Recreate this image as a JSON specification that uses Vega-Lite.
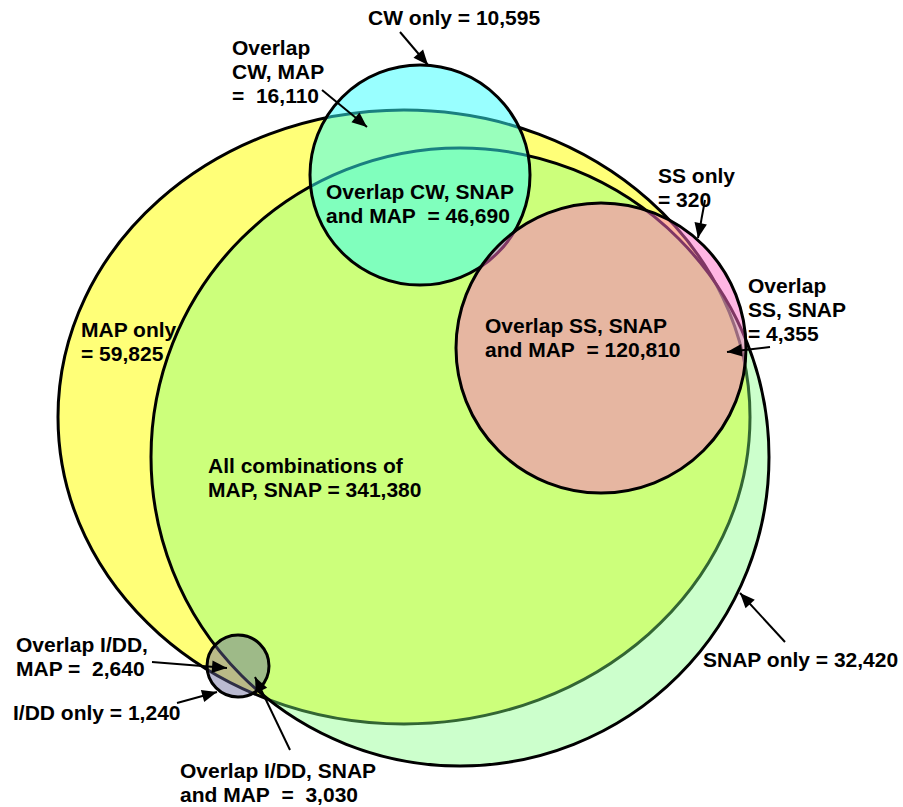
{
  "$schema": "https://vega.github.io/schema/vega-lite/v6.json",
  "width": 903,
  "height": 807,
  "padding": 0,
  "autosize": {"type": "none"},
  "background": "white",
  "config": {"view": {"stroke": null}},
  "datasets": {
    "sets": [
      {"set": "MAP", "cx": 404, "cy": 417, "r": 346},
      {"set": "SNAP", "cx": 460, "cy": 457, "r": 309},
      {"set": "CW", "cx": 420, "cy": 175, "r": 110},
      {"set": "SS", "cx": 601, "cy": 348, "r": 145},
      {"set": "I/DD", "cx": 238, "cy": 666, "r": 31}
    ],
    "arrows": [
      {"label": "CW only", "x": 400, "y": 32, "x2": 428, "y2": 65, "angle": 139.7},
      {"label": "Overlap CW, MAP", "x": 322, "y": 90, "x2": 367, "y2": 127, "angle": 129.4},
      {"label": "SS only", "x": 705, "y": 200, "x2": 698, "y2": 238, "angle": -169.6},
      {"label": "Overlap SS, SNAP", "x": 770, "y": 347, "x2": 727, "y2": 352, "angle": -96.6},
      {"label": "SNAP only", "x": 785, "y": 642, "x2": 740, "y2": 593, "angle": -42.6},
      {"label": "Overlap I/DD, MAP", "x": 152, "y": 662, "x2": 227, "y2": 668, "angle": 94.6},
      {"label": "I/DD only", "x": 177, "y": 703, "x2": 217, "y2": 692, "angle": 74.6},
      {"label": "Overlap I/DD, SNAP and MAP", "x": 290, "y": 750, "x2": 255, "y2": 677, "angle": -25.6}
    ],
    "labels": [
      {"text": "CW only = 10,595", "x": 368, "y": 25},
      {"text": "Overlap\nCW, MAP\n=\u00a0 16,110", "x": 232, "y": 55},
      {"text": "Overlap CW, SNAP\nand MAP\u00a0 = 46,690", "x": 326, "y": 199},
      {"text": "SS only\n= 320", "x": 658, "y": 183},
      {"text": "Overlap\nSS, SNAP\n= 4,355", "x": 748, "y": 293},
      {"text": "Overlap SS, SNAP\nand MAP\u00a0 = 120,810", "x": 485, "y": 333},
      {"text": "MAP only\n= 59,825", "x": 81, "y": 337},
      {"text": "All combinations of\nMAP, SNAP = 341,380", "x": 208, "y": 473},
      {"text": "Overlap I/DD,\nMAP =\u00a0 2,640", "x": 16, "y": 652},
      {"text": "I/DD only = 1,240", "x": 13, "y": 720},
      {"text": "Overlap I/DD, SNAP\nand MAP\u00a0 =\u00a0 3,030", "x": 180, "y": 778},
      {"text": "SNAP only = 32,420", "x": 703, "y": 667}
    ]
  },
  "encoding": {
    "x": {"field": "cx", "type": "quantitative", "scale": {"domain": [0, 903], "nice": false, "zero": false}, "axis": null},
    "y": {"field": "cy", "type": "quantitative", "scale": {"domain": [0, 807], "nice": false, "zero": false, "reverse": true}, "axis": null},
    "size": {"field": "r", "type": "quantitative", "scale": {"type": "pow", "exponent": 2, "domain": [0, 400], "range": [0, 640000]}, "legend": null}
  },
  "layer": [
    {
      "data": {"name": "sets"},
      "transform": [{"filter": "datum.set === 'MAP'"}],
      "mark": {
        "type": "point", "filled": true, "opacity": 1,
        "shape": "M -1 0 C -1 -0.49 -0.5523 -0.887 0 -0.887 C 0.5523 -0.887 1 -0.49 1 0 C 1 0.49 0.5523 0.887 0 0.887 C -0.5523 0.887 -1 0.49 -1 0 Z",
        "fill": "#FFFF78", "fillOpacity": 1, "stroke": "black", "strokeWidth": 3
      }
    },
    {
      "data": {"name": "sets"},
      "transform": [{"filter": "datum.set === 'SNAP'"}],
      "mark": {"type": "point", "filled": true, "opacity": 1, "shape": "circle", "fill": "#80FF80", "fillOpacity": 0.4, "stroke": "black", "strokeWidth": 3}
    },
    {
      "data": {"name": "sets"},
      "transform": [{"filter": "datum.set === 'CW'"}],
      "mark": {"type": "point", "filled": true, "opacity": 1, "shape": "circle", "fill": "#33FFFF", "fillOpacity": 0.5, "stroke": "black", "strokeWidth": 3}
    },
    {
      "data": {"name": "sets"},
      "transform": [{"filter": "datum.set === 'SS'"}],
      "mark": {"type": "point", "filled": true, "opacity": 1, "shape": "circle", "fill": "#FF6EC7", "fillOpacity": 0.5, "stroke": "black", "strokeWidth": 3}
    },
    {
      "data": {"name": "sets"},
      "transform": [{"filter": "datum.set === 'I/DD'"}],
      "mark": {"type": "point", "filled": true, "opacity": 1, "shape": "circle", "fill": "#666699", "fillOpacity": 0.45, "stroke": "black", "strokeWidth": 3}
    },
    {
      "data": {"name": "arrows"},
      "mark": {"type": "rule", "stroke": "black", "strokeWidth": 2},
      "encoding": {
        "x": {"field": "x", "type": "quantitative", "axis": null},
        "y": {"field": "y", "type": "quantitative", "axis": null},
        "x2": {"field": "x2"},
        "y2": {"field": "y2"},
        "size": null
      }
    },
    {
      "data": {"name": "arrows"},
      "mark": {
        "type": "point", "filled": true, "opacity": 1, "fill": "black", "strokeWidth": 0,
        "size": 900, "shape": "M 0 0 L 0.42 1 L -0.42 1 Z"
      },
      "encoding": {
        "x": {"field": "x2", "type": "quantitative", "axis": null},
        "y": {"field": "y2", "type": "quantitative", "axis": null},
        "size": null,
        "angle": {"field": "angle", "type": "quantitative", "scale": null}
      }
    },
    {
      "data": {"name": "labels"},
      "mark": {
        "type": "text", "align": "left", "baseline": "alphabetic",
        "font": "Liberation Sans", "fontWeight": "bold", "fontSize": 21,
        "lineHeight": 24, "lineBreak": "\n", "color": "black"
      },
      "encoding": {
        "x": {"field": "x", "type": "quantitative", "axis": null},
        "y": {"field": "y", "type": "quantitative", "axis": null},
        "size": null,
        "text": {"field": "text", "type": "nominal"}
      }
    }
  ]
}
